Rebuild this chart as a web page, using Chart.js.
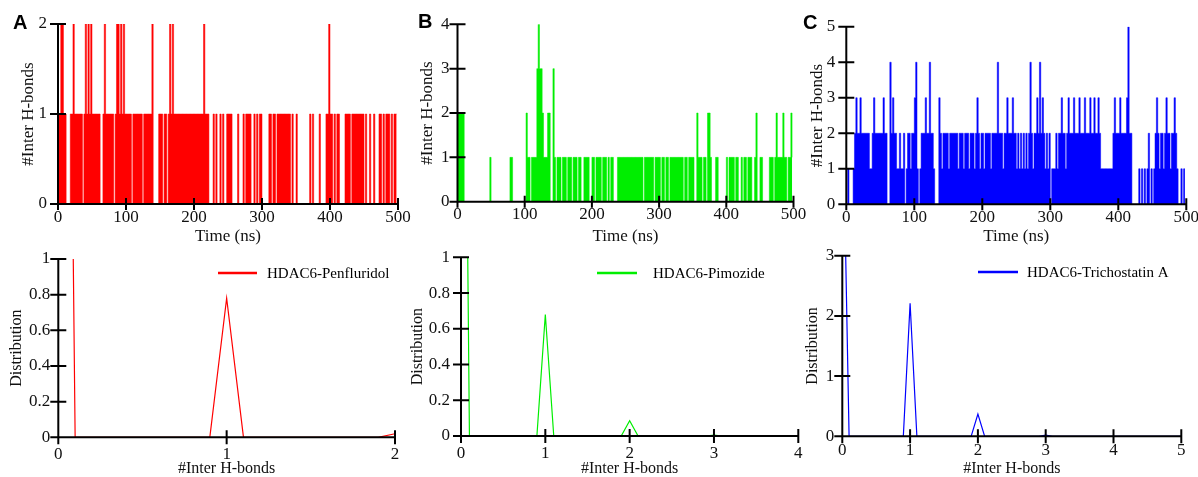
<!DOCTYPE html>
<html>
<head>
<meta charset="utf-8">
<script src="https://cdn.jsdelivr.net/npm/chart.js@4.4.1/dist/chart.umd.min.js"></script>
<style>
  html, body { margin: 0; padding: 0; background: #fff; overflow: hidden; }
  #wrap { position: relative; width: 1198px; height: 477px; }
  #wrap canvas { position: absolute; }
  .tag { position: absolute; font: bold 20px "Liberation Sans", Arial, sans-serif; line-height: 20px; color: #000; }
</style>
</head>
<body>
<div id="wrap">
  <canvas id="topA"></canvas>
  <canvas id="topB"></canvas>
  <canvas id="topC"></canvas>
  <canvas id="distA"></canvas>
  <canvas id="distB"></canvas>
  <canvas id="distC"></canvas>
  <div class="tag" style="left:13px;top:12px">A</div>
  <div class="tag" style="left:418px;top:11px">B</div>
  <div class="tag" style="left:803px;top:12px">C</div>
</div>
<script>
// one sample every 2 ns (number of H-bonds)
const timeStepNs = 2;

const hbPenfluridol = [
  '1122110001 1211111101 2121211111 1001211111 1012212121',
  '1111011111 1101111112 0000111011 0121211111 1111111111',
  '1111111211 1000101001 0100111100 0010001011 1100101011',
  '0000011011 0111111111 1010010000 0000010100 0010000112',
  '1101011000 0111101111 1111101001 0010001101 0111010111'
].join('').replace(/\s/g, '');

const hbPimozide = [
  '2222200000 0000000000 0000100000 0000000001 1000000000',
  '0211011113 4332111220 0310111011 1011101110 1100111100',
  '1101111011 1010110001 1111111111 1111111101 1111110111',
  '1011011011 1111111101 1011110021 1101102210 0011000000',
  '1011110110 0101101110 0120011000 0011101211 1121101121'
].join('').replace(/\s/g, '');

const hbTrichostatin = [
  '0100012322 3222222112 3222222322 0042322112 1120122122',
  '3410122232 2422100032 1222212222 2212221222 1222123212',
  '2122221222 2422212232 2232212121 2121242122 3242321212',
  '0111212232 2123222322 2322232223 2232232111 1111112322',
  '2322223522 0000010101 0120101232 1221232212 2321001011'
].join('').replace(/\s/g, '');

// distributions
const distXPenfluridol = [0, 0.1, 0.9, 1, 1.1, 1.9, 2];
const distYPenfluridol = [9, 0, 0, 0.78, 0, 0, 0.02];
const distXPimozide = [0, 0.1, 0.9, 1, 1.1, 1.9, 2, 2.1, 2.9, 3, 3.1, 4];
const distYPimozide = [5, 0, 0, 0.68, 0, 0, 0.085, 0, 0, 0.005, 0, 0];
const distXTrichostatin = [0, 0.1, 0.9, 1, 1.1, 1.9, 2, 2.1, 2.9, 3, 3.1, 5];
const distYTrichostatin = [6, 0, 0, 2.21, 0, 0, 0.37, 0, 0, 0.02, 0, 0];

const serif = '"Liberation Serif", "Times New Roman", serif';

const axisFrame = {
  id: 'axisFrame',
  afterDatasetsDraw(chart, args, o) {
    const { ctx, chartArea: a, scales } = chart;
    ctx.save();
    ctx.strokeStyle = '#000';
    ctx.lineWidth = 2;
    ctx.beginPath();
    ctx.moveTo(a.left, a.top - 1);
    ctx.lineTo(a.left, a.bottom);
    ctx.lineTo(a.right + 1, a.bottom);
    scales.x.ticks.forEach(t => {
      const px = scales.x.getPixelForValue(t.value);
      ctx.moveTo(px, a.bottom - o.xTick);
      ctx.lineTo(px, a.bottom + o.xTick);
    });
    scales.y.ticks.forEach(t => {
      const py = scales.y.getPixelForValue(t.value);
      ctx.moveTo(a.left - o.yTick, py);
      ctx.lineTo(a.left + o.yTick, py);
    });
    ctx.stroke();
    if (o.legend) {
      const ds = chart.data.datasets[0];
      const L = o.legend;
      ctx.strokeStyle = ds.borderColor;
      ctx.lineWidth = 2.5;
      ctx.beginPath();
      ctx.moveTo(L.x1, L.y);
      ctx.lineTo(L.x2, L.y);
      ctx.stroke();
      ctx.fillStyle = '#000';
      ctx.font = '15px ' + serif;
      ctx.textAlign = 'left';
      ctx.textBaseline = 'middle';
      ctx.fillText(ds.label, L.tx, L.y + 1);
    }
    ctx.restore();
  }
};

function place(id, g) {
  const c = document.getElementById(id);
  c.width = g.w;
  c.height = g.h;
  c.style.left = g.left + 'px';
  c.style.top = g.top + 'px';
  c.style.width = g.w + 'px';
  c.style.height = g.h + 'px';
  return c;
}

const plainNumber = v => String(Number(v.toFixed(2)));

function axes(g, xOpt, yOpt, xTitle, yTitle, fontSize, titleSize) {
  return {
    x: {
      type: 'linear', min: xOpt.min, max: xOpt.max,
      grid: { display: false, drawTicks: false }, border: { display: false },
      ticks: { stepSize: xOpt.step, padding: g.xPad, color: '#111', callback: plainNumber,
               font: { family: serif, size: fontSize } },
      title: { display: true, text: xTitle, color: '#111', padding: 0, font: { family: serif, size: titleSize, lineHeight: 1 } },
      afterFit: s => { s.height = g.xH; s.paddingLeft = 0; s.paddingRight = 0; }
    },
    y: {
      min: yOpt.min, max: yOpt.max,
      grid: { display: false, drawTicks: false }, border: { display: false },
      ticks: { stepSize: yOpt.step, padding: g.yPad, color: '#111', callback: plainNumber,
               font: { family: serif, size: fontSize } },
      title: { display: true, text: yTitle, color: '#111', padding: { top: g.yTitlePad, bottom: 0 }, font: { family: serif, size: titleSize, lineHeight: 1 } },
      afterFit: s => { s.width = g.yW; s.paddingTop = 0; s.paddingBottom = 0; }
    }
  };
}

function traceChart(id, series, color, yMax, g) {
  const points = series.split('').map((c, i) => ({ x: i * timeStepNs, y: Number(c) }));
  new Chart(place(id, g), {
    type: 'line',
    data: {
      datasets: [{
        data: points,
        borderColor: color,
        backgroundColor: color,
        borderWidth: 0.5,
        pointRadius: 0,
        stepped: true,
        fill: 'origin'
      }]
    },
    options: {
      responsive: false,
      animation: false,
      devicePixelRatio: 1,
      layout: { padding: { left: 0, right: g.padR, top: g.padT, bottom: 0 } },
      plugins: {
        legend: { display: false },
        tooltip: { enabled: false },
        axisFrame: { xTick: 6, yTick: 8 }
      },
      scales: axes(g, { min: 0, max: 500, step: 100 }, { min: 0, max: yMax, step: 1 },
        'Time (ns)', '#Inter H-bonds', 17, 17)
    },
    plugins: [axisFrame]
  });
}

function distChart(id, label, xs, ys, color, xMax, yMax, yStep, g) {
  new Chart(place(id, g), {
    type: 'line',
    data: {
      datasets: [{
        label: label,
        data: xs.map((x, i) => ({ x: x, y: ys[i] })),
        borderColor: color,
        borderWidth: 1.2,
        pointRadius: 0,
        tension: 0,
        fill: false
      }]
    },
    options: {
      responsive: false,
      animation: false,
      devicePixelRatio: 1,
      layout: { padding: { left: 0, right: g.padR, top: g.padT, bottom: 0 } },
      plugins: {
        legend: { display: false },
        tooltip: { enabled: false },
        axisFrame: { xTick: 7, yTick: 8, legend: g.legend }
      },
      scales: axes(g, { min: 0, max: xMax, step: 1 }, { min: 0, max: yMax, step: yStep },
        '#Inter H-bonds', 'Distribution', 17, 16)
    },
    plugins: [axisFrame]
  });
}

traceChart('topA', hbPenfluridol, '#ff0000', 2,
  { left: 0, top: 0, w: 420, h: 245, yW: 58, padR: 22, padT: 24, xH: 41, xPad: 3, yPad: 11, yTitlePad: 20.5 });
traceChart('topB', hbPimozide, '#00ee00', 4,
  { left: 400, top: 0, w: 420, h: 245, yW: 57.5, padR: 26.5, padT: 24.3, xH: 43.3, xPad: 3, yPad: 8, yTitlePad: 19.5 });
traceChart('topC', hbTrichostatin, '#0000ff', 5,
  { left: 788, top: 0, w: 410, h: 245, yW: 58.3, padR: 11.7, padT: 26.7, xH: 40.7, xPad: 3, yPad: 11, yTitlePad: 21 });

distChart('distA', 'HDAC6-Penfluridol', distXPenfluridol, distYPenfluridol, '#ff0000', 2, 1, 0.2,
  { left: 0, top: 245, w: 420, h: 232, yW: 58.3, padR: 25, padT: 14, xH: 39.7, xPad: 7, yPad: 8, yTitlePad: 9,
    legend: { x1: 218, x2: 257, y: 28, tx: 267 } });
distChart('distB', 'HDAC6-Pimozide', distXPimozide, distYPimozide, '#00ee00', 4, 1, 0.2,
  { left: 400, top: 245, w: 420, h: 232, yW: 61, padR: 21.7, padT: 12.3, xH: 41, xPad: 7, yPad: 11, yTitlePad: 10,
    legend: { x1: 197, x2: 237, y: 28, tx: 253 } });
distChart('distC', 'HDAC6-Trichostatin A', distXTrichostatin, distYTrichostatin, '#0000ff', 5, 3, 1,
  { left: 788, top: 245, w: 410, h: 232, yW: 54.3, padR: 16.7, padT: 10.7, xH: 40.7, xPad: 4, yPad: 8, yTitlePad: 17,
    legend: { x1: 190, x2: 230, y: 27, tx: 239 } });
</script>
</body>
</html>
